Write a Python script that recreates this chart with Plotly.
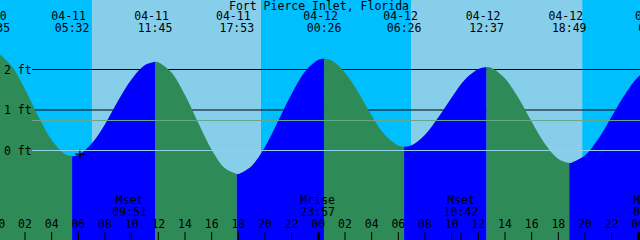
import pandas as pd
import plotly.graph_objects as go

# ---------------- data ----------------
station = "Fort Pierce Inlet, Florida"
year = 2024

# hourly water level samples, hours after 04-11 00:00 (ft)
hours = list(range(0, 50))
heights = [2.39, 2.08, 1.51, 0.84, 0.26, -0.09, -0.11, 0.17, 0.65, 1.24,
           1.76, 2.11, 2.18, 1.92, 1.37, 0.68, 0.02, -0.44, -0.58, -0.38,
           0.09, 0.74, 1.40, 1.95, 2.24, 2.22, 1.92, 1.43, 0.86, 0.38,
           0.12, 0.13, 0.39, 0.82, 1.31, 1.75, 2.01, 2.04, 1.78, 1.30,
           0.71, 0.16, -0.21, -0.30, -0.12, 0.29, 0.84, 1.39, 1.82, 2.04]

# high / low tide events
event_dates = ["04-10", "04-11", "04-11", "04-11", "04-12", "04-12", "04-12", "04-12", "04-13"]
event_times = ["23:35", "05:32", "11:45", "17:53", "00:26", "06:26", "12:37", "18:49", "01:18"]
event_heights = [2.42, -0.14, 2.19, -0.58, 2.27, 0.09, 2.06, -0.31, 2.05]

# sun
sunrise = ["04-11 07:01", "04-12 06:57"]
sunset = ["04-11 19:42", "04-12 19:48"]

# moon
moon_labels = ["Mset", "Mrise", "Mset", "Mrise"]
moon_times = ["04-11 09:51", "04-11 23:57", "04-12 10:42", "04-13 00:55"]

# current-time mark
now_time = "04-11 06:07"
now_height = -0.09

# level lines
level_labels = ["2 ft", "1 ft", "0 ft"]
level_values = [2, 1, 0]
msl_level = 0.74

view_start = "04-11 00:07:26"
view_end = "04-13 00:07:26"

# ---------------- style ----------------
NIGHT = "#00BFFF"
DAY = "#87CEEB"
EBB = "#2E8B57"
FLOOD = "#0000FF"
MSL_COLOR = "#64AA8C"
DATUM_COLOR = "#90D2EC"
FONT = dict(family="DejaVu Sans Mono", size=11.5, color="black")
W, H = 640, 240
Y_TOP, Y_BOTTOM = 3.716, -2.21


def ts(s):
    return pd.Timestamp(f"{year}-{s}")


base = ts("04-11 00:00")
hour_ts = [base + pd.Timedelta(hours=h) for h in hours]
ev_ts = [ts(f"{d} {t}") for d, t in zip(event_dates, event_times)]

fig = go.Figure()

# water fill, coloured by rising / falling
for i in range(len(ev_ts) - 1):
    a, b = ev_ts[i], ev_ts[i + 1]
    xs, ys = [a], [event_heights[i]]
    for t, h in zip(hour_ts, heights):
        if a < t < b:
            xs.append(t)
            ys.append(h)
    xs.append(b)
    ys.append(event_heights[i + 1])
    color = FLOOD if event_heights[i + 1] > event_heights[i] else EBB
    fig.add_trace(go.Scatter(x=xs, y=[Y_BOTTOM - 1] * len(xs), mode="lines",
                             line=dict(width=0), hoverinfo="skip", showlegend=False))
    fig.add_trace(go.Scatter(x=xs, y=ys, mode="lines",
                             line=dict(width=0, shape="spline", smoothing=1, color=color),
                             fill="tonexty", fillcolor=color,
                             hoverinfo="skip", showlegend=False))

# current-time mark
fig.add_trace(go.Scatter(x=[ts(now_time)], y=[now_height], mode="markers",
                         marker=dict(symbol="cross-thin", size=6.5,
                                     line=dict(color="black", width=1.3)),
                         hoverinfo="skip", showlegend=False))

# header: event dates and times (pixel-row axis y2)
fig.add_trace(go.Scatter(x=ev_ts, y=[17] * len(ev_ts), yaxis="y2", mode="text",
                         text=[d + "\u00a0" for d in event_dates],
                         textposition="middle center", textfont=FONT,
                         hoverinfo="skip", showlegend=False))
fig.add_trace(go.Scatter(x=ev_ts, y=[29.5] * len(ev_ts), yaxis="y2", mode="text",
                         text=event_times, textposition="middle center", textfont=FONT,
                         hoverinfo="skip", showlegend=False))

# moon labels
moon_ts = [ts(m) for m in moon_times]
fig.add_trace(go.Scatter(x=moon_ts, y=[201.3] * len(moon_ts), yaxis="y2", mode="text",
                         text=moon_labels, textposition="middle center", textfont=FONT,
                         hoverinfo="skip", showlegend=False))
fig.add_trace(go.Scatter(x=moon_ts, y=[213.3] * len(moon_ts), yaxis="y2", mode="text",
                         text=[m.split(" ")[1] for m in moon_times],
                         textposition="middle center", textfont=FONT,
                         hoverinfo="skip", showlegend=False))

# hour labels
tick_ts = list(pd.date_range(base, base + pd.Timedelta(hours=48), freq="2h"))
fig.add_trace(go.Scatter(x=tick_ts, y=[225.3] * len(tick_ts), yaxis="y2", mode="text",
                         text=[t.strftime("%H") for t in tick_ts],
                         textposition="middle center", textfont=FONT,
                         hoverinfo="skip", showlegend=False))

shapes = []
# daylight
for r, s in zip(sunrise, sunset):
    shapes.append(dict(type="rect", xref="x", yref="paper", x0=ts(r), x1=ts(s), y0=0, y1=1,
                       fillcolor=DAY, line=dict(width=0), layer="below"))
# level lines behind water
for v in level_values:
    if v != 0:
        shapes.append(dict(type="line", xref="paper", yref="y", x0=32 / W, x1=1, y0=v, y1=v,
                           line=dict(color="black", width=1), layer="below"))
# datum and mean level lines on top
shapes.append(dict(type="line", xref="paper", yref="y", x0=32 / W, x1=1, y0=0, y1=0,
                   line=dict(color=DATUM_COLOR, width=1), layer="above"))
shapes.append(dict(type="line", xref="paper", yref="y", x0=32 / W, x1=1, y0=msl_level, y1=msl_level,
                   line=dict(color=MSL_COLOR, width=1), layer="above"))
# hour ticks
for t in tick_ts:
    shapes.append(dict(type="line", xref="x", yref="y2", x0=t, x1=t, y0=232, y1=240,
                       line=dict(color="black", width=3 if t.hour == 0 else 1), layer="above"))
# moon ticks
for t in moon_ts:
    shapes.append(dict(type="line", xref="x", yref="y2", x0=t, x1=t, y0=232, y1=240,
                       line=dict(color="black", width=1), layer="above"))

annotations = [dict(text=station, xref="paper", yref="y2", x=0.499, y=5.5,
                    xanchor="center", yanchor="middle", showarrow=False, font=FONT)]
for lab, v in zip(level_labels, level_values):
    annotations.append(dict(text=lab, xref="paper", yref="y", x=2 / W, y=v,
                            xanchor="left", yanchor="middle", showarrow=False, font=FONT))

fig.update_layout(
    width=W, height=H, margin=dict(l=0, r=0, t=0, b=0, pad=0),
    paper_bgcolor=NIGHT, plot_bgcolor=NIGHT,
    xaxis=dict(type="date", range=[ts(view_start), ts(view_end)], visible=False, fixedrange=True),
    yaxis=dict(range=[Y_BOTTOM, Y_TOP], visible=False, fixedrange=True),
    yaxis2=dict(range=[H, 0], overlaying="y", visible=False, fixedrange=True),
    shapes=shapes, annotations=annotations,
    showlegend=False, hovermode=False,
)

fig.write_html("out.html", config={"displayModeBar": False})
